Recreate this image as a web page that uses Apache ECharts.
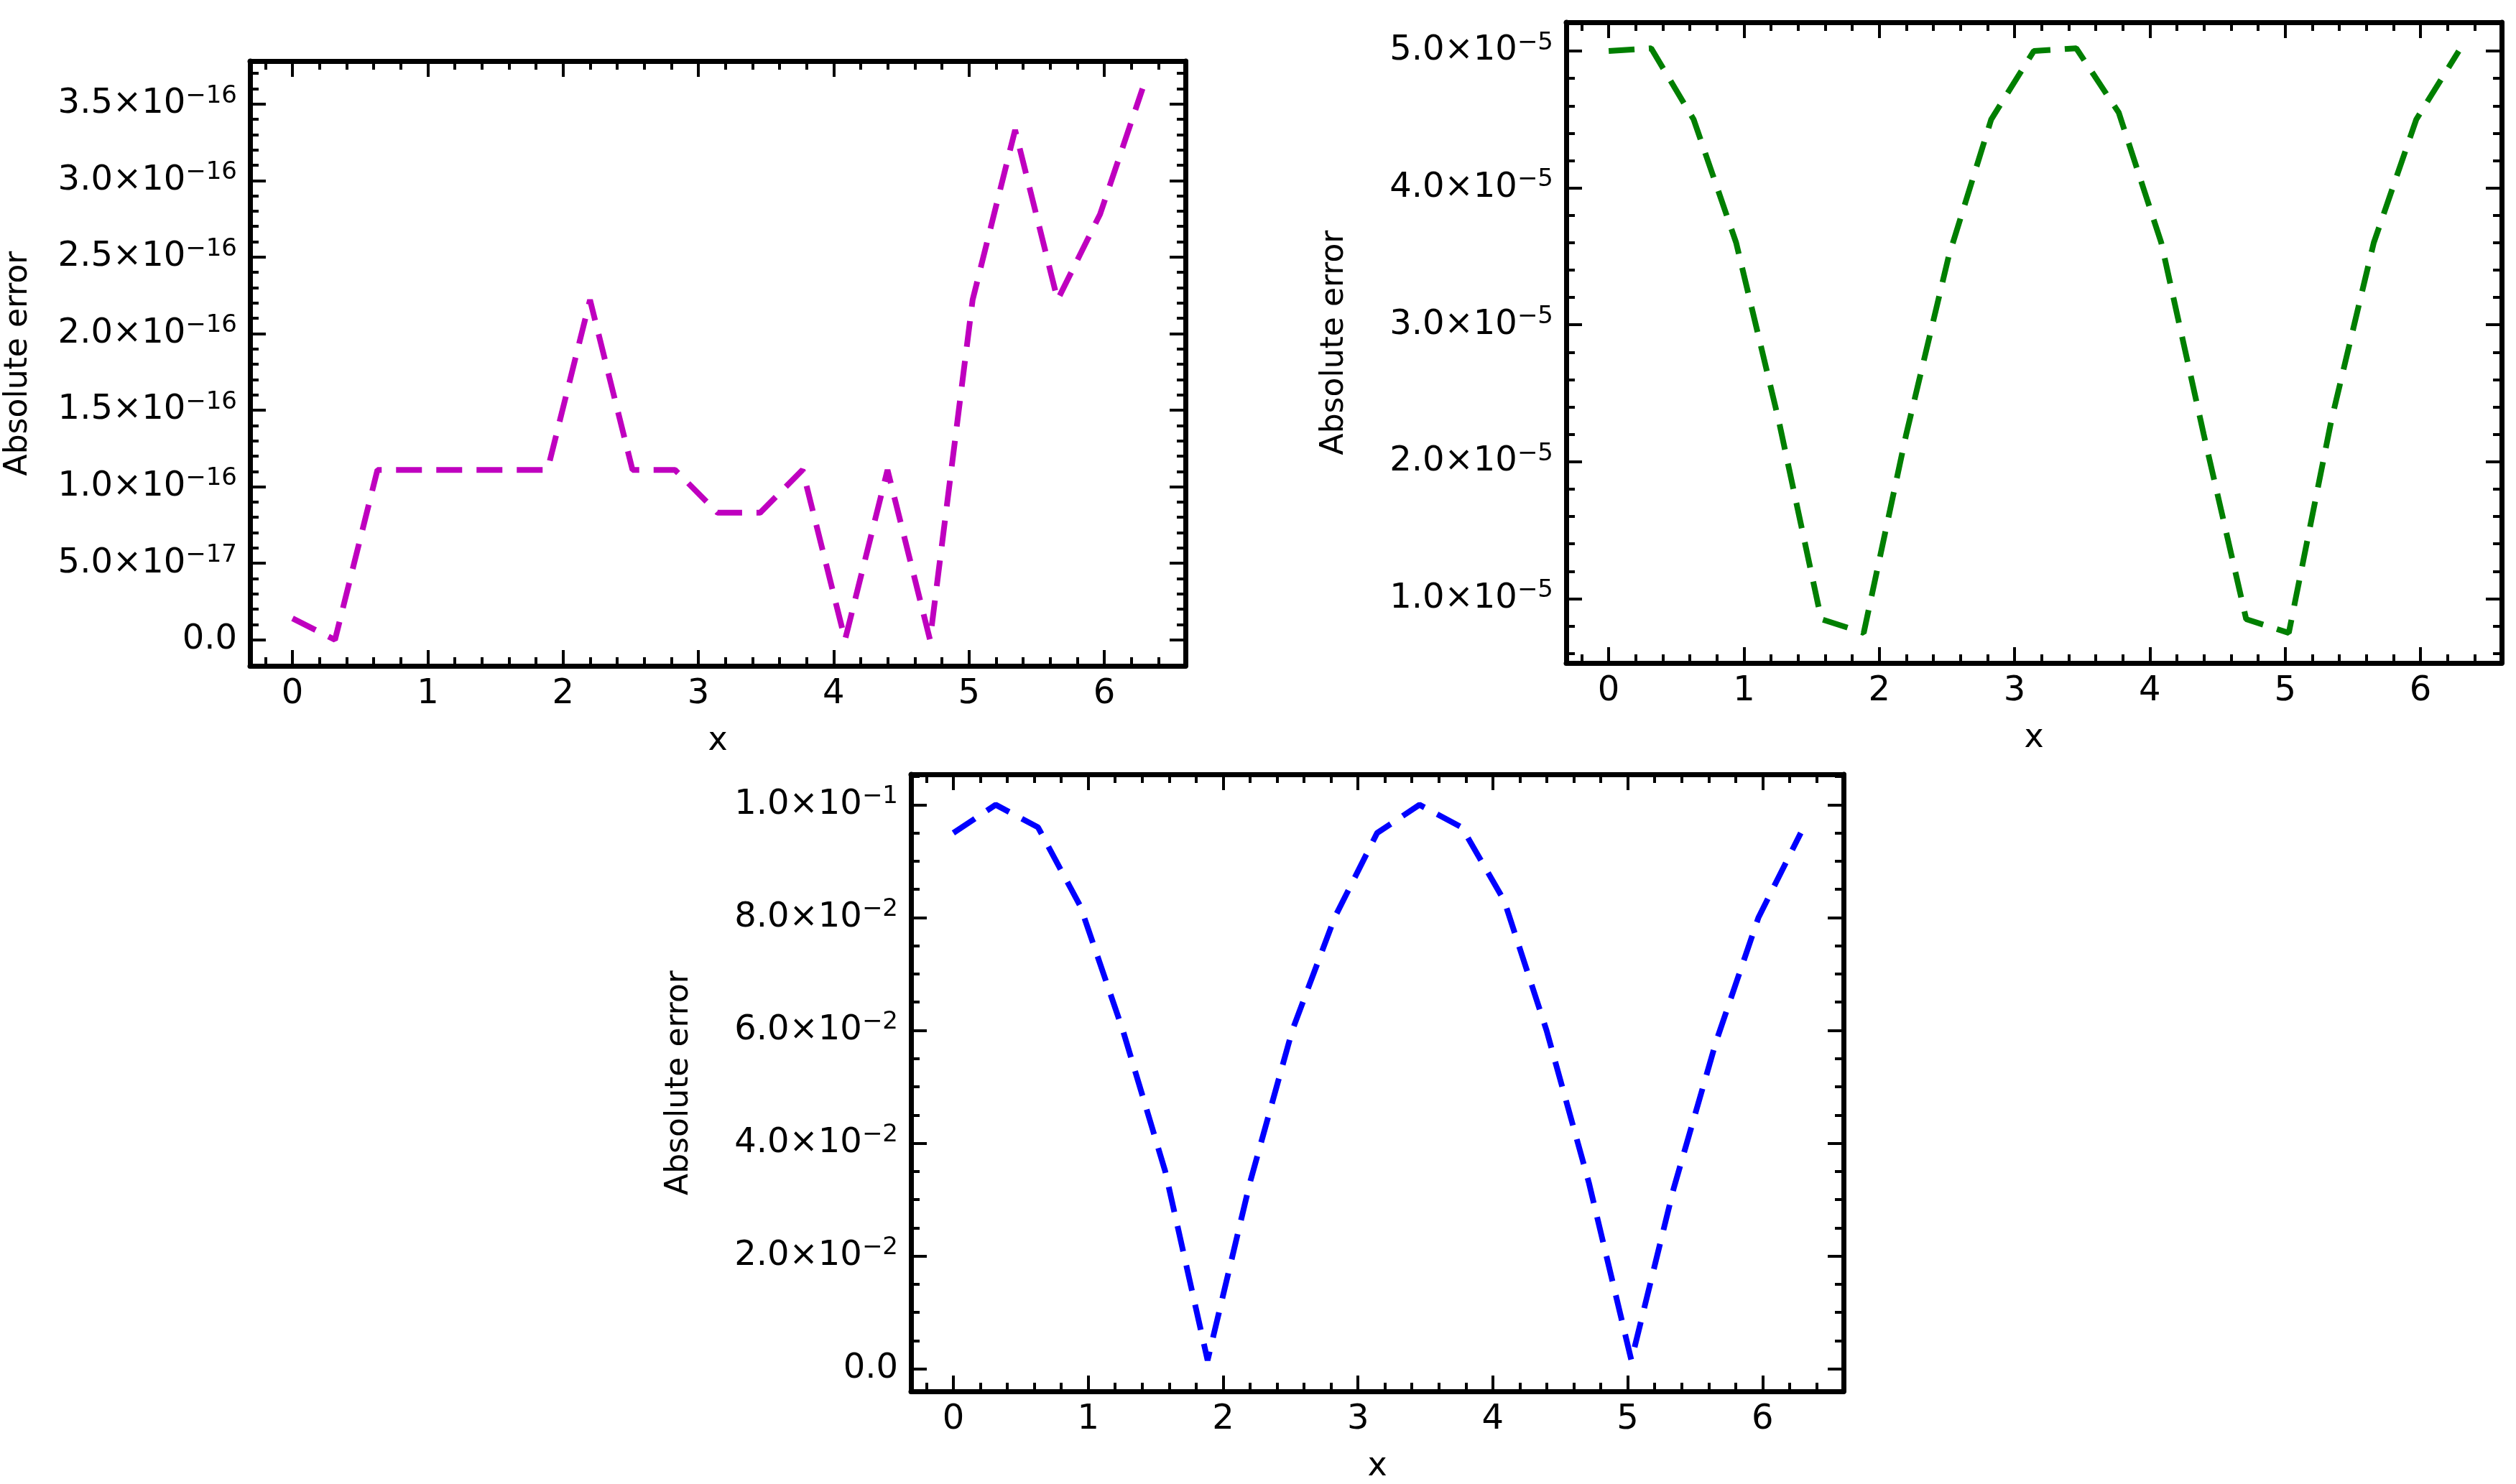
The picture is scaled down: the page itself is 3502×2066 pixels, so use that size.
<!DOCTYPE html>
<html>
<head>
<meta charset="utf-8">
<script src="https://cdn.jsdelivr.net/npm/echarts@6/dist/echarts.min.js"></script>
<style>html,body{margin:0;padding:0;background:#fff}#main{width:3502px;height:2066px}</style>
</head>
<body>
<div id="main"></div>
<script>
// x sample points, 0..2pi in 21 steps
var xs = [0, 0.314, 0.628, 0.942, 1.257, 1.571, 1.885, 2.199, 2.513, 2.827, 3.142,
  3.456, 3.770, 4.084, 4.398, 4.712, 5.027, 5.341, 5.655, 5.969, 6.283];
// top-left, magenta (units 1e-16)
var err1 = [0.14, 0.0, 1.11, 1.11, 1.11, 1.11, 1.11, 2.22, 1.11, 1.11, 0.83,
  0.83, 1.11, 0.0, 1.11, 0.0, 2.22, 3.33, 2.22, 2.78, 3.6];
// top-right, green (units 1e-5)
var err2 = [5.0, 5.02, 4.5, 3.6, 2.3, 0.85, 0.75, 2.2, 3.5, 4.5, 5.0,
  5.02, 4.55, 3.6, 2.2, 0.85, 0.75, 2.3, 3.6, 4.5, 5.0];
// bottom, blue (units 1e-2)
var err3 = [9.5, 10.0, 9.6, 8.2, 6.0, 3.5, 0.15, 3.3, 6.0, 8.0, 9.5,
  10.0, 9.6, 8.3, 6.0, 3.3, 0.15, 3.2, 5.8, 8.0, 9.5];
var xMajor = [0, 1, 2, 3, 4, 5, 6];
var y1Major = [0, 0.5, 1, 1.5, 2, 2.5, 3, 3.5];
var y2Major = [1, 2, 3, 4, 5];
var y3Major = [0, 2, 4, 6, 8, 10];

var chart = echarts.init(document.getElementById('main'));

function range(a, b, step) {
  var out = [];
  for (var v = a; v <= b + 1e-9; v += step) out.push(Math.round(v / step) * step);
  return out;
}
function scale(arr, k) { return arr.map(function (v) { return v * k; }); }

function sci(v) {
  if (Math.abs(v) < 1e-30) return '0.0';
  var e = Math.floor(Math.log10(Math.abs(v)) + 1e-9);
  var m = (v / Math.pow(10, e)).toFixed(1);
  return m + '×10{s|' + String(e).replace('-', '−') + '}';
}

var rich = {s: {fontFamily: 'DejaVu Sans', fontSize: 34, verticalAlign: 'top', padding: [0, 0, 22, 0], color: '#000'}};

var grids = [
  {left: 348, top: 85, width: 1302, height: 842},
  {left: 2180, top: 31, width: 1302, height: 892},
  {left: 1268, top: 1078, width: 1298, height: 866}
];
var yCfg = [
  {min: -0.17e-16, max: 3.78e-16, major: scale(y1Major, 1e-16), minor: scale(range(0, 3.7, 0.1), 1e-16)},
  {min: 0.53e-5, max: 5.21e-5, major: scale(y2Major, 1e-5), minor: scale(range(0.6, 5.2, 0.2), 1e-5)},
  {min: -0.4e-2, max: 10.54e-2, major: scale(y3Major, 1e-2), minor: scale(range(0, 10.5, 0.5), 1e-2)}
];
var series = [
  {data: scale(err1, 1e-16), color: '#bf00bf'},
  {data: scale(err2, 1e-5), color: '#007f00'},
  {data: scale(err3, 1e-2), color: '#0000ff'}
];

var xAxes = [], yAxes = [], seriesList = [];
var xMinor = range(-0.2, 6.6, 0.2);
grids.forEach(function (g, i) {
  ['bottom', 'top'].forEach(function (pos) {
    [true, false].forEach(function (isMajor) {
      var first = pos === 'bottom' && isMajor;
      xAxes.push({
        gridIndex: i, type: 'value', position: pos, min: -0.314, max: 6.6,
        name: first ? 'x' : '', nameLocation: 'middle', nameGap: 82,
        nameTextStyle: {fontFamily: 'DejaVu Sans', fontSize: 46, color: '#000'},
        axisLine: {show: isMajor, onZero: false, lineStyle: {color: '#000', width: 7}},
        axisTick: {show: true, inside: true, length: isMajor ? 22 : 12,
          customValues: isMajor ? xMajor : xMinor, lineStyle: {color: '#000', width: 4}},
        axisLabel: {show: first, customValues: xMajor, margin: 16, formatter: function (v) { return String(Math.round(v)); },
          fontFamily: 'DejaVu Sans', fontSize: 48, color: '#000'},
        splitLine: {show: false}
      });
    });
  });
  var c = yCfg[i];
  ['left', 'right'].forEach(function (pos) {
    [true, false].forEach(function (isMajor) {
      var first = pos === 'left' && isMajor;
      yAxes.push({
        gridIndex: i, type: 'value', position: pos, min: c.min, max: c.max,
        name: first ? 'Absolute error' : '', nameLocation: 'middle', nameGap: 300, nameRotate: 90,
        nameTextStyle: {fontFamily: 'DejaVu Sans', fontSize: 44, color: '#000'},
        axisLine: {show: isMajor, onZero: false, lineStyle: {color: '#000', width: 7}},
        axisTick: {show: true, inside: true, length: isMajor ? 22 : 12,
          customValues: isMajor ? c.major : c.minor, lineStyle: {color: '#000', width: 4}},
        axisLabel: {show: first, customValues: c.major, margin: 18, formatter: sci, rich: rich,
          fontFamily: 'DejaVu Sans', fontSize: 48, color: '#000'},
        splitLine: {show: false}
      });
    });
  });
  seriesList.push({
    type: 'line', xAxisIndex: 4 * i, yAxisIndex: 4 * i, symbol: 'none',
    data: xs.map(function (x, k) { return [x, series[i].data[k]]; }),
    lineStyle: {color: series[i].color, width: 8, type: [36, 20]},
    animation: false
  });
});

chart.setOption({
  animation: false,
  grid: grids,
  xAxis: xAxes,
  yAxis: yAxes,
  series: seriesList
});
</script>
</body>
</html>
